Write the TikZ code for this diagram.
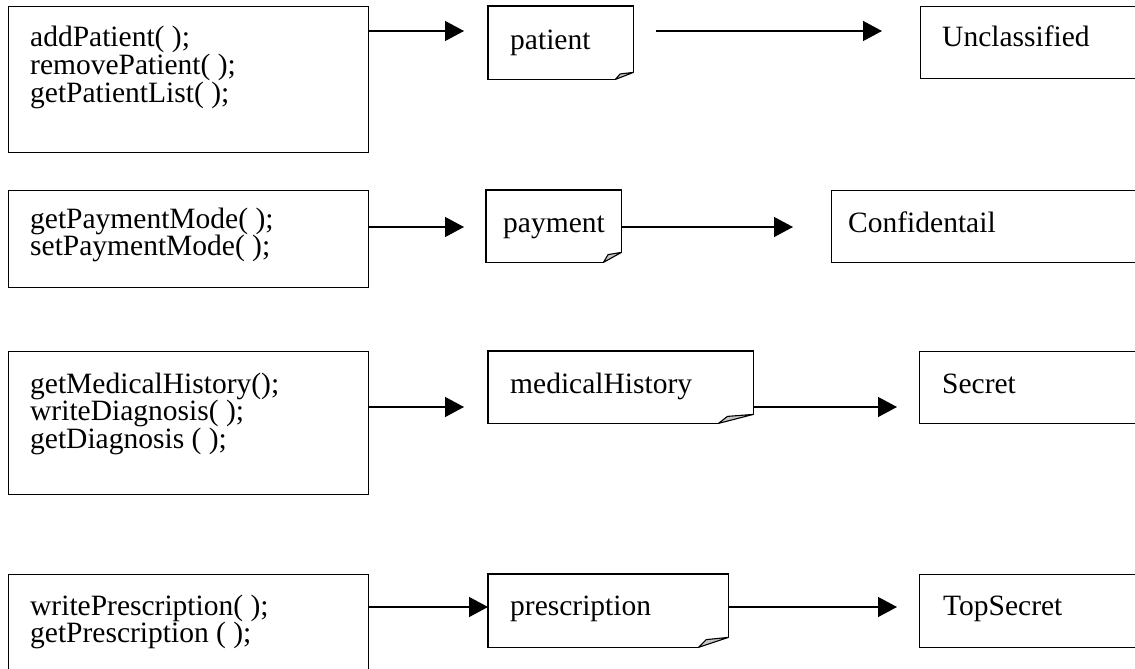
\documentclass[tikz,border=0pt]{standalone}
\usepackage{fontspec}
\setmainfont{Liberation Serif}
\usetikzlibrary{arrows.meta}

\tikzset{
  box/.style={draw, line width=1.3pt, rectangle, inner sep=0pt, anchor=north west},
  notebody/.style={rectangle, inner sep=0pt, anchor=north west},
  lbl/.style={anchor=base west, inner sep=0pt, font=\fontsize{29.5}{26.7}\selectfont},
  link/.style={line width=1.3pt, -{Triangle[length=19pt,width=20pt]}},
  foldflap/.style={fill=black!22, draw, line width=1.1pt, line join=round},
}

% Outline of a note with a dog-eared bottom right corner.
% #1 node name, #2 fold width, #3 fold height
\newcommand\drawnote[3]{%
  \draw[line width=1.3pt]
    ([xshift=-#2]#1.south east) -- (#1.south west) -- (#1.north west)
    -- (#1.north east) -- ([yshift=#3]#1.south east);
  \draw[foldflap]
    ([xshift=-#2]#1.south east)
    -- ([xshift=-0.74*#2, yshift=0.78*#3]#1.south east)
    -- ([yshift=#3]#1.south east) -- cycle;
}

\begin{document}
\begin{tikzpicture}[x=1pt, y=-1pt]
  \path[use as bounding box] (0,0) rectangle (1135,669);
  \fill[white] (0,0) rectangle (1135,669);
  \clip (0,0) rectangle (1135,669);

  % method groups
  \node[box, minimum width=360pt, minimum height=146pt] (m1) at (8,6) {};
  \node[box, minimum width=360pt, minimum height=97pt]  (m2) at (8,190) {};
  \node[box, minimum width=360pt, minimum height=143pt] (m3) at (8,351) {};
  \node[box, minimum width=360pt, minimum height=130pt] (m4) at (8,574) {};

  \node[lbl] (m1t) at ([xshift=22pt, yshift=-41pt]m1.north west)
    {\parbox[t]{330pt}{addPatient( );\\removePatient( );\\getPatientList( );}};
  \node[lbl] (m2t) at ([xshift=22pt, yshift=-38pt]m2.north west)
    {\parbox[t]{330pt}{getPaymentMode( );\\setPaymentMode( );}};
  \node[lbl] (m3t) at ([xshift=22pt, yshift=-42pt]m3.north west)
    {\parbox[t]{330pt}{getMedicalHistory();\\writeDiagnosis( );\\getDiagnosis ( );}};
  \node[lbl] (m4t) at ([xshift=22pt, yshift=-41pt]m4.north west)
    {\parbox[t]{330pt}{writePrescription( );\\getPrescription ( );}};

  % data objects
  \node[notebody, minimum width=145pt, minimum height=73pt] (n1) at (488,6) {};
  \node[notebody, minimum width=135pt, minimum height=72pt] (n2) at (486,190) {};
  \node[notebody, minimum width=265pt, minimum height=72pt] (n3) at (488,351) {};
  \node[notebody, minimum width=240pt, minimum height=73pt] (n4) at (488,574) {};
  \drawnote{n1}{18pt}{7pt}
  \drawnote{n2}{18pt}{10pt}
  \drawnote{n3}{35pt}{9pt}
  \drawnote{n4}{30pt}{10pt}

  \node[lbl] (n1t) at ([xshift=22pt, yshift=-43pt]n1.north west) {patient};
  \node[lbl] (n2t) at ([xshift=17pt, yshift=-42pt]n2.north west) {payment};
  \node[lbl] (n3t) at ([xshift=22pt, yshift=-42pt]n3.north west) {medicalHistory};
  \node[lbl] (n4t) at ([xshift=22pt, yshift=-41pt]n4.north west) {prescription};

  % security levels
  \node[box, minimum width=230pt, minimum height=72pt] (c1) at (920,6) {};
  \node[box, minimum width=320pt, minimum height=72pt] (c2) at (831,190) {};
  \node[box, minimum width=230pt, minimum height=72pt] (c3) at (919,351) {};
  \node[box, minimum width=230pt, minimum height=73pt] (c4) at (919,574) {};

  \node[lbl] (c1t) at ([xshift=22pt, yshift=-41pt]c1.north west) {Unclassified};
  \node[lbl] (c2t) at ([xshift=17pt, yshift=-42pt]c2.north west) {Confidentail};
  \node[lbl] (c3t) at ([xshift=23pt, yshift=-42pt]c3.north west) {Secret};
  \node[lbl] (c4t) at ([xshift=24pt, yshift=-41pt]c4.north west) {TopSecret};

  % connectors
  \draw[link] ([yshift=-25pt]m1.north east) -- ([xshift=-24pt, yshift=-25pt]n1.north west);
  \draw[link] ([xshift=23pt, yshift=-25pt]n1.north east) -- ([xshift=-38pt, yshift=-25pt]c1.north west);

  \draw[link] ([yshift=-37pt]m2.north east) -- ([xshift=-22pt, yshift=-37pt]n2.north west);
  \draw[link] ([yshift=-37pt]n2.north east) -- ([xshift=-38pt, yshift=-37pt]c2.north west);

  \draw[link] ([yshift=-56pt]m3.north east) -- ([xshift=-24pt, yshift=-56pt]n3.north west);
  \draw[link] ([yshift=-56pt]n3.north east) -- ([xshift=-22pt, yshift=-56pt]c3.north west);

  \draw[link] ([yshift=-33pt]m4.north east) -- ([yshift=-33pt]n4.north west);
  \draw[link] ([yshift=-33pt]n4.north east) -- ([xshift=-22pt, yshift=-33pt]c4.north west);
\end{tikzpicture}
\end{document}
